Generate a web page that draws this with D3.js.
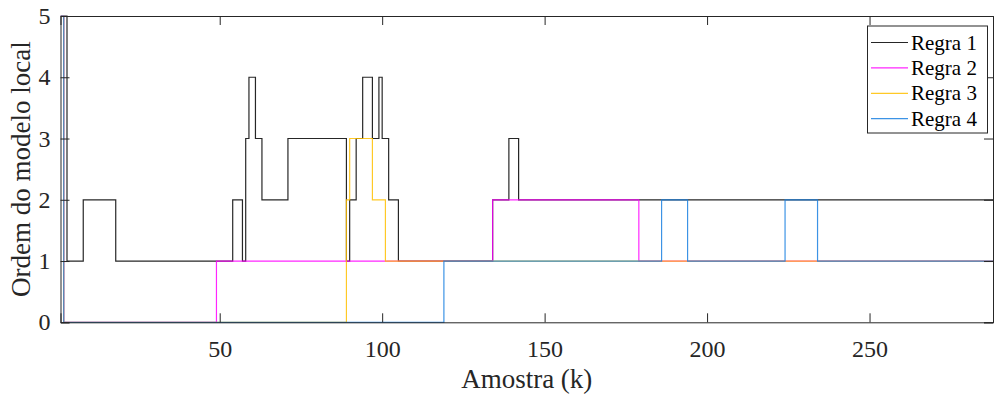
<!DOCTYPE html>
<html>
<head>
<meta charset="utf-8">
<script src="https://cdn.jsdelivr.net/npm/d3@7"></script>
<style>
html,body{margin:0;padding:0;background:#fff;}
svg{display:block;}
svg text{font-family:"Liberation Serif","Times New Roman",serif !important;}
</style>
</head>
<body>
<svg id="chart" width="994" height="396"></svg>
<script>
// Step series: k where the value changes, and the value from that k on
const regra1K = [1, 3, 8, 18, 54, 57, 58, 59, 61, 63, 71, 89, 90, 92, 94, 97, 99, 100, 102, 105, 134, 139, 142, 288];
const regra1V = [5, 1, 2, 1, 2, 1, 3, 4, 3, 2, 3, 1, 2, 3, 4, 3, 4, 3, 2, 1, 2, 3, 2, 2];
const regra2K = [1, 2, 49, 134, 179, 288];
const regra2V = [5, 0, 1, 2, 1, 1];
const regra3K = [1, 2, 89, 90, 97, 101, 288];
const regra3V = [5, 0, 2, 3, 2, 1, 1];
const regra4K = [1, 2, 119, 186, 194, 224, 234, 288];
const regra4V = [5, 0, 1, 2, 1, 2, 1, 1];
const seriesNames = ["Regra 1", "Regra 2", "Regra 3", "Regra 4"];
const seriesColors = ["#000000", "#ff00ff", "#ffc000", "#1a80e0"];
const xTicks = [50, 100, 150, 200, 250];
const yTicks = [0, 1, 2, 3, 4, 5];
const xDomain = [1, 288];
const yDomain = [0, 5];
const xLabel = "Amostra (k)";
const yLabel = "Ordem do modelo local";

const series = [
  {name: seriesNames[0], k: regra1K, v: regra1V, color: seriesColors[0]},
  {name: seriesNames[1], k: regra2K, v: regra2V, color: seriesColors[1]},
  {name: seriesNames[2], k: regra3K, v: regra3V, color: seriesColors[2]},
  {name: seriesNames[3], k: regra4K, v: regra4V, color: seriesColors[3]}
];

const svg = d3.select("#chart");
const L = 60.5, R = 993, T = 16, B = 322.3;
const x = d3.scaleLinear().domain(xDomain).range([L, R]);
const y = d3.scaleLinear().domain(yDomain).range([B, T]);
const axisColor = "#262626";

const plot = svg.append("g");
svg.append("clipPath").attr("id", "clip").append("rect")
  .attr("x", L).attr("y", T - 1).attr("width", R - L).attr("height", B - T + 2);

const line = d3.line().x(d => x(d[0])).y(d => y(d[1])).curve(d3.curveStepAfter);

plot.selectAll("path.series").data(series).enter().append("path")
  .attr("class", "series")
  .attr("clip-path", "url(#clip)")
  .attr("d", s => line(s.k.map((k, i) => [k, s.v[i]])))
  .attr("fill", "none")
  .attr("stroke", s => s.color)
  .attr("stroke-width", 1.2)
  .attr("stroke-opacity", 0.85);

// axes
const tickLen = 9;
const gx = svg.append("g").attr("transform", `translate(0,${B})`)
  .call(d3.axisBottom(x).tickValues(xTicks).tickSize(-tickLen).tickPadding(18).tickFormat(d3.format("d")));
const gxTop = svg.append("g").attr("transform", `translate(0,${T})`)
  .call(d3.axisTop(x).tickValues(xTicks).tickSize(-tickLen).tickFormat(""));
const gy = svg.append("g").attr("transform", `translate(${L},0)`)
  .call(d3.axisLeft(y).tickValues(yTicks).tickSize(-tickLen).tickPadding(10).tickFormat(d3.format("d")));
const gyR = svg.append("g").attr("transform", `translate(${R},0)`)
  .call(d3.axisRight(y).tickValues(yTicks).tickSize(-tickLen).tickFormat(""));
[gx, gxTop, gy, gyR].forEach(g => {
  g.attr("font-family", null).attr("font-size", null);
  g.select(".domain").attr("stroke", axisColor).attr("stroke-width", 1);
  g.selectAll(".tick line").attr("stroke", axisColor).attr("stroke-width", 1);
  g.selectAll("text").style("font-size", "24px").attr("fill", axisColor);
});
gx.selectAll("text").attr("dy", "0.71em");

svg.append("text").attr("x", (L + R) / 2).attr("y", 388)
  .attr("text-anchor", "middle").style("font-size", "27px").attr("fill", axisColor).text(xLabel);
svg.append("text").attr("transform", `translate(30,${(T + B) / 2}) rotate(-90)`)
  .attr("text-anchor", "middle").style("font-size", "27px").attr("fill", axisColor).text(yLabel);

// legend
const lg = svg.append("g");
lg.append("rect").attr("x", 867.5).attr("y", 26).attr("width", 120).attr("height", 107)
  .attr("fill", "#fff").attr("stroke", axisColor).attr("stroke-width", 1);
const items = lg.selectAll("g.item").data(series).enter().append("g")
  .attr("transform", (d, i) => `translate(0,${42.5 + i * 25.4})`);
items.append("line").attr("x1", 871).attr("x2", 908).attr("y1", 0).attr("y2", 0)
  .attr("stroke", d => d.color).attr("stroke-width", 1.2).attr("stroke-opacity", 0.85);
items.append("text").attr("x", 911).attr("y", 7).style("font-size", "21px").attr("fill", "#000")
  .text(d => d.name);
</script>
</body>
</html>
